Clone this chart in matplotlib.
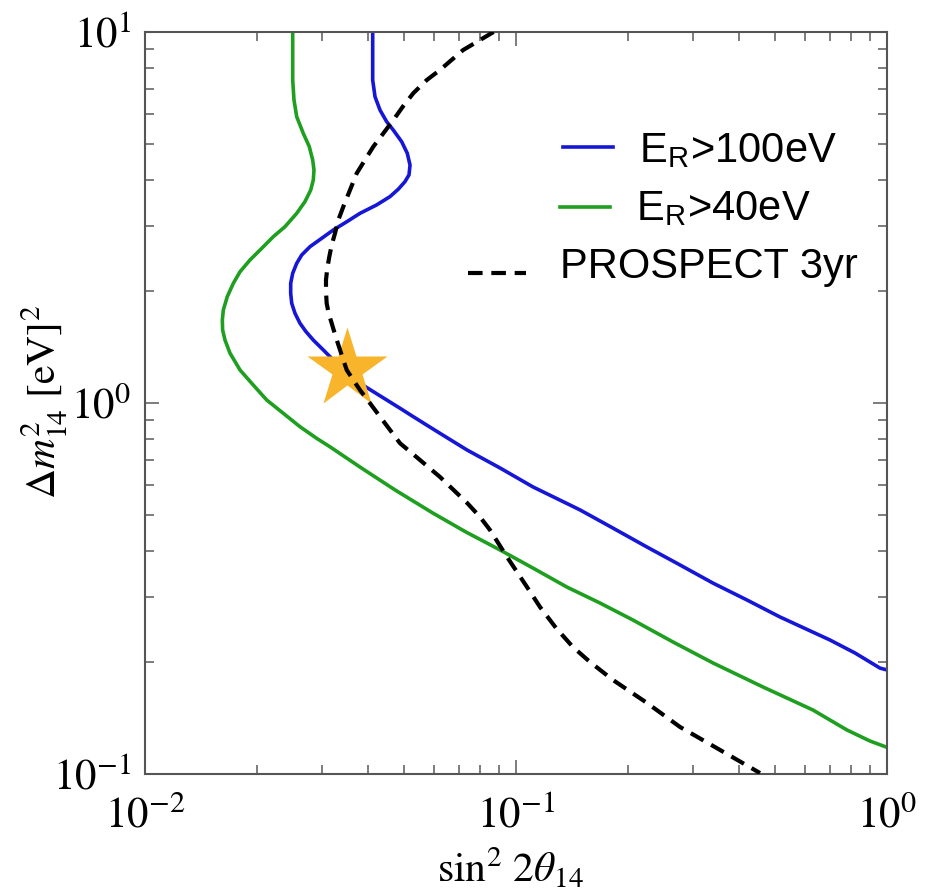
import matplotlib
matplotlib.use("Agg")
import matplotlib.pyplot as plt
from matplotlib.ticker import LogLocator, NullFormatter, FixedLocator, FixedFormatter
from matplotlib.lines import Line2D

plt.rcParams["mathtext.fontset"] = "stix"
plt.rcParams["font.family"] = ["Liberation Serif", "DejaVu Serif"]

# Sensitivity contour E_R > 40 eV  (sin^2 2theta_14, Delta m^2_14 [eV^2])
green_x = [0.02501, 0.02501, 0.02521, 0.02564, 0.02671, 0.02772, 0.02831, 0.02854,
           0.02842, 0.02797, 0.02699, 0.02564, 0.02384, 0.02217, 0.02064, 0.01919,
           0.01804, 0.0173, 0.01666, 0.01626, 0.01616, 0.01619, 0.01643, 0.01695,
           0.01804, 0.01958, 0.02128, 0.02359, 0.02617, 0.02902, 0.03152, 0.03797,
           0.0472, 0.0597, 0.0733, 0.0906, 0.1111, 0.1372, 0.1684, 0.2067, 0.265,
           0.3396, 0.4632, 0.632, 0.780, 0.900, 1.0]
green_y = [10.0, 7.42, 6.56, 5.91, 5.33, 4.91, 4.52, 4.25,
           3.99, 3.75, 3.49, 3.245, 2.987, 2.807, 2.612, 2.43,
           2.259, 2.102, 1.934, 1.781, 1.674, 1.573, 1.478, 1.362,
           1.227, 1.118, 1.019, 0.938, 0.863, 0.803, 0.762, 0.672,
           0.583, 0.505, 0.449, 0.4016, 0.359, 0.319, 0.289, 0.260, 0.2269,
           0.1992, 0.1716, 0.1487, 0.1314, 0.1227, 0.118]

# Sensitivity contour E_R > 100 eV
blue_x = [0.04109, 0.04109, 0.04169, 0.0430, 0.04482, 0.0467, 0.0492, 0.05093,
          0.0518, 0.05148, 0.0502, 0.04817, 0.04575, 0.04213, 0.03797, 0.03498,
          0.03217, 0.02994, 0.02784, 0.02645, 0.02564, 0.02501, 0.0247, 0.0247,
          0.02486, 0.02537, 0.02617, 0.02716, 0.02842, 0.03024, 0.03217, 0.03498,
          0.03797, 0.04125, 0.04482, 0.04868, 0.05287, 0.05745, 0.06238, 0.0738,
          0.0906, 0.1111, 0.1488, 0.1826, 0.2255, 0.2767, 0.3396, 0.4195, 0.5147,
          0.702, 0.820, 0.957, 1.0]
blue_y = [10.0, 7.42, 6.69, 6.16, 5.73, 5.44, 5.06, 4.71,
          4.38, 4.12, 3.95, 3.77, 3.60, 3.42, 3.245, 3.08,
          2.926, 2.779, 2.638, 2.506, 2.38, 2.237, 2.102, 1.975,
          1.856, 1.745, 1.640, 1.557, 1.478, 1.390, 1.306, 1.214,
          1.130, 1.073, 1.019, 0.968, 0.9185, 0.872, 0.8285, 0.747,
          0.668, 0.594, 0.515, 0.460, 0.409, 0.366, 0.327, 0.2944, 0.265,
          0.2297, 0.2119, 0.193, 0.1907]

# PROSPECT 3-year sensitivity
pros_x = [0.087, 0.0720, 0.06238, 0.05745, 0.05287, 0.04969, 0.0467, 0.04389,
          0.04125, 0.03917, 0.03721, 0.03569, 0.03424, 0.03319, 0.03252, 0.03186,
          0.03139, 0.0310, 0.03075, 0.03075, 0.03088, 0.03127, 0.03186, 0.03266,
          0.03355, 0.03424, 0.03498, 0.03643, 0.03797, 0.04042, 0.0430, 0.04575,
          0.04868, 0.05511, 0.06238, 0.0738, 0.080, 0.0851, 0.0946, 0.1071,
          0.1161, 0.1282, 0.1424, 0.1583, 0.1826, 0.2255, 0.2767, 0.3547, 0.4547]
pros_y = [10.0, 8.94, 7.90, 7.42, 6.84, 6.32, 5.79, 5.33,
          4.91, 4.52, 4.16, 3.75, 3.382, 3.113, 2.867, 2.666,
          2.480, 2.307, 2.146, 1.995, 1.856, 1.745, 1.640, 1.509,
          1.390, 1.306, 1.227, 1.153, 1.084, 0.998, 0.9185, 0.846,
          0.779, 0.702, 0.632, 0.538, 0.493, 0.4546, 0.3845, 0.319,
          0.2818, 0.2475, 0.2199, 0.2004, 0.1792, 0.1554, 0.1339, 0.1161, 0.1006]

# Best-fit point
star_x = [0.035]
star_y = [1.235]

labels = ["E$_\\mathregular{R}$>100eV", "E$_\\mathregular{R}$>40eV", "PROSPECT 3yr"]
xtick_vals = [0.01, 0.1, 1.0]
xtick_labels = [r"$10^{-2}$", r"$10^{-1}$", r"$10^{0}$"]
ytick_vals = [0.1, 1.0, 10.0]
ytick_labels = [r"$10^{-1}$", r"$10^{0}$", r"$10^{1}$"]

BLUE = "#1616d6"
GREEN = "#1f9f1f"
STAR = "#f8b42a"
LW = 2.6
LW_DASH = 3.0
DASH = (3.5, 2.1)

W, H = 937, 896
fig = plt.figure(figsize=(W / 100, H / 100), dpi=100)
ax = fig.add_axes([145 / W, 1 - 774 / H, 742 / W, 742 / H])
ax.set_xscale("log")
ax.set_yscale("log")

ax.plot(green_x, green_y, color=GREEN, lw=LW, solid_joinstyle="round",
        solid_capstyle="butt", zorder=2)
ax.plot(blue_x, blue_y, color=BLUE, lw=LW, solid_joinstyle="round",
        solid_capstyle="butt", zorder=2)
ax.plot(star_x, star_y, marker="*", ms=60, color=STAR, mec="none", ls="none", zorder=3)
ax.plot(pros_x, pros_y, color="black", lw=LW_DASH, dashes=DASH, zorder=4)

ax.set_xlim(0.01, 1.0)
ax.set_ylim(0.1, 10.0)

ax.xaxis.set_major_locator(FixedLocator(xtick_vals))
ax.xaxis.set_major_formatter(FixedFormatter(xtick_labels))
ax.yaxis.set_major_locator(FixedLocator(ytick_vals))
ax.yaxis.set_major_formatter(FixedFormatter(ytick_labels))
ax.xaxis.set_minor_locator(LogLocator(base=10, subs=range(2, 10)))
ax.yaxis.set_minor_locator(LogLocator(base=10, subs=range(2, 10)))
ax.xaxis.set_minor_formatter(NullFormatter())
ax.yaxis.set_minor_formatter(NullFormatter())

ax.tick_params(which="both", direction="in", top=True, right=True,
               color="#666666", width=1.2)
ax.tick_params(which="major", length=10, labelsize=31)
ax.tick_params(axis="x", which="major", pad=16)
ax.tick_params(axis="y", which="major", pad=10)
ax.tick_params(which="minor", length=6.5)
for s in ax.spines.values():
    s.set_color("#555555")
    s.set_linewidth(1.5)

# Axis titles
fig.text(45 / W, 1 - 402 / H, r"$\Delta m^2_{14}\ [\mathrm{eV}]^2$", rotation=90,
         ha="center", va="center", fontsize=30)
fig.text(510 / W, 1 - 882 / H, r"$\sin^2\, 2\theta_{14}$", ha="center",
         va="baseline", fontsize=30)

# Legend drawn in figure pixel positions
def px(x, y):
    return x / W, 1 - y / H

sans = ["Liberation Sans", "DejaVu Sans"]
fig.add_artist(Line2D([563 / W, 613 / W], [1 - 147 / H] * 2, color=BLUE, lw=LW))
fig.add_artist(Line2D([560 / W, 610 / W], [1 - 207 / H] * 2, color=GREEN, lw=LW))
fig.add_artist(Line2D([468 / W, 526 / W], [1 - 273 / H] * 2, color="black",
                      lw=LW_DASH, dashes=DASH))
fig.text(*px(639, 162), labels[0], fontsize=30, family=sans, va="baseline")
fig.text(*px(636, 220), labels[1], fontsize=30, family=sans, va="baseline")
fig.text(*px(560, 278), labels[2], fontsize=30, family=sans, va="baseline")

fig.savefig("out.png", dpi=100)
